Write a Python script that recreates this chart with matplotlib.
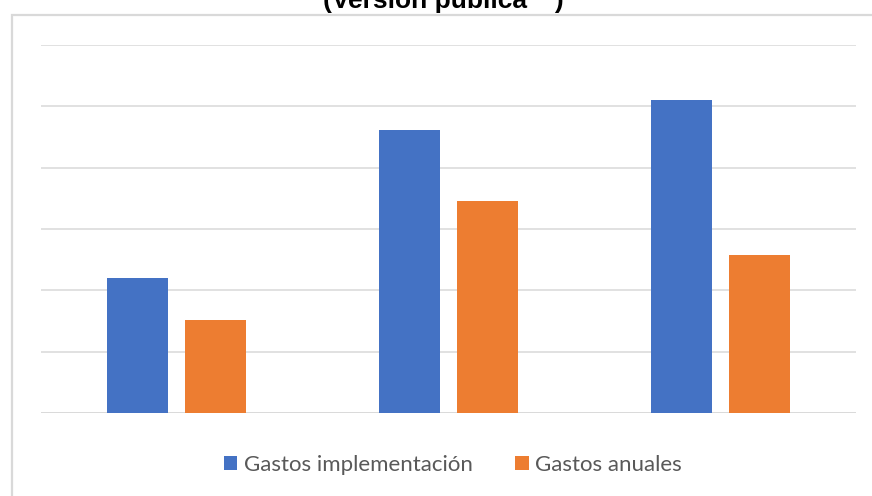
import matplotlib.pyplot as plt
import numpy as np
from matplotlib.patches import Patch, Rectangle

# Three scenarios (x labels are not shown on the chart)
categories = ["Escenario 1", "Escenario 2", "Escenario 3"]
gastos_implementacion = [2.20, 4.61, 5.11]
gastos_anuales = [1.52, 3.46, 2.58]
series_names = ["Gastos implementación", "Gastos anuales"]

blue = "#4472C4"
orange = "#ED7D31"
grid_grey = "#D9D9D9"

plt.rcParams["font.family"] = ["Liberation Sans", "DejaVu Sans"]

fig = plt.figure(figsize=(8.72, 4.96), dpi=100)
ax = fig.add_axes([0.047, 0.1673, 0.9347, 0.742])

x = np.arange(len(categories))
width = 0.224
offset = 0.1435
ax.bar(x - offset, gastos_implementacion, width, color=blue, zorder=3)
ax.bar(x + offset, gastos_anuales, width, color=orange, zorder=3)

ax.set_xlim(-0.5, len(categories) - 0.5)
ax.set_ylim(0, 6)
ax.set_yticks(np.arange(0, 7, 1))
ax.yaxis.grid(True, color=grid_grey, linewidth=1.1, zorder=0)
ax.set_xticks([])
ax.tick_params(axis="y", length=0, labelleft=False)
for side in ["top", "right", "left", "bottom"]:
    ax.spines[side].set_visible(False)
ax.axhline(0, color=grid_grey, linewidth=1.1, zorder=2)

# Chart frame, partly running off the image
frame = Rectangle((12 / 872, -0.2), 1.2, 1.2 - 15 / 496,
                  transform=fig.transFigure, fill=False,
                  edgecolor=grid_grey, linewidth=1.6, clip_on=False)
fig.patches.append(frame)

# Title (upper part falls outside the figure)
fig.text(443 / 872, 1 - 8 / 496, "(Versión pública **)", ha="center",
         va="baseline", fontsize=19, fontweight="bold", color="black")

handles = [Patch(facecolor=blue), Patch(facecolor=orange)]
fig.legend(handles, series_names, loc="center", bbox_to_anchor=(453 / 872, 0.0625),
           ncol=2, frameon=False, labelcolor="#595959",
           prop={"family": ["Lato", "DejaVu Sans"], "size": 16},
           handlelength=0.6, handleheight=0.6, handletextpad=0.3,
           columnspacing=1.9)

fig.savefig("out.png", dpi=100)
